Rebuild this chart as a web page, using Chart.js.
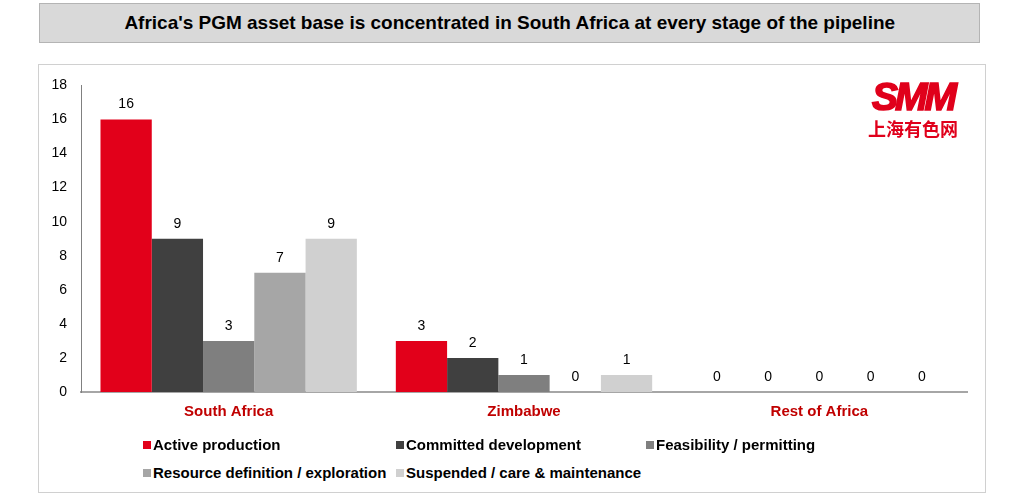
<!DOCTYPE html>
<html>
<head>
<meta charset="utf-8">
<script src="https://cdn.jsdelivr.net/npm/chart.js@4.4.1/dist/chart.umd.min.js"></script>
<style>
  html, body { margin: 0; padding: 0; background: #fff; }
  body { width: 1024px; height: 499px; position: relative; overflow: hidden; font-family: "Liberation Sans", Arial, sans-serif; }
  #titleBox {
    position: absolute; left: 39px; top: 3px; width: 939px; height: 38px;
    background: #d9d9d9; border: 1px solid #b4b4b4;
    display: flex; align-items: center; justify-content: center;
  }
  #titleText { font-weight: bold; font-size: 19px; color: #000; white-space: nowrap; display: inline-block; transform-origin: center; }
  #chartBox {
    position: absolute; left: 38px; top: 64px; width: 946px; height: 427px;
    background: #fff; border: 1px solid #d0d0d0;
  }
  #canvasWrap { position: absolute; left: 1px; top: -2px; width: 944px; height: 373px; }
  #logo { position: absolute; left: 824px; top: 17px; width: 100px; color: #e0001b; text-align: center; }
  #logoSmm { font-family: "Liberation Sans", Arial, sans-serif; font-weight: bold; font-style: italic; font-size: 39px; line-height: 30px; display: inline-block; letter-spacing: -3px; -webkit-text-stroke: 1.6px #e0001b; }
  #logoCn { font-family: "Noto Sans CJK SC", sans-serif; font-weight: bold; font-size: 18px; line-height: 20px; margin-top: 4px; }
  .legRow { position: absolute; left: 0; height: 20px; font-weight: bold; font-size: 15px; color: #000; }
  .legItem { position: absolute; top: 0; white-space: nowrap; line-height: 20px; }
  .legItem i { display: inline-block; width: 8px; height: 8px; margin-right: 2px; vertical-align: 1px; }
</style>
</head>
<body>
<div id="titleBox"><span id="titleText">Africa's PGM asset base is concentrated in South Africa at every stage of the pipeline</span></div>
<div id="chartBox">
  <div id="canvasWrap"><canvas id="chart"></canvas></div>
  <div id="logo"><div id="logoSmm">SMM</div><div id="logoCn">上海有色网</div></div>
  <div class="legRow" id="legRow1" style="top:370px"></div>
  <div class="legRow" id="legRow2" style="top:398px"></div>
</div>
<script>
const regions = ['South Africa', 'Zimbabwe', 'Rest of Africa'];
const seriesNames = ['Active production', 'Committed development', 'Feasibility / permitting', 'Resource definition / exploration', 'Suspended / care & maintenance'];
const seriesColors = ['#e2001a', '#404040', '#7f7f7f', '#a6a6a6', '#d0d0d0'];
const activeProduction = [16, 3, 0];
const committedDevelopment = [9, 2, 0];
const feasibilityPermitting = [3, 1, 0];
const resourceExploration = [7, 0, 0];
const suspendedCare = [9, 1, 0];
const yTicks = [0, 2, 4, 6, 8, 10, 12, 14, 16, 18];

const seriesValues = [activeProduction, committedDevelopment, feasibilityPermitting, resourceExploration, suspendedCare];

// squeeze the title to the width it has in the reference
const titleEl = document.getElementById('titleText');
const titleW = titleEl.getBoundingClientRect().width;
titleEl.style.transform = 'scaleX(' + (771 / titleW).toFixed(3) + ')';

// legend, laid out in columns like the original
const legendCols = [104, 357, 607];
const legendLayout = [[0, 1, 2], [3, 4]];
legendLayout.forEach((row, r) => {
  const rowEl = document.getElementById('legRow' + (r + 1));
  row.forEach((si, c) => {
    const item = document.createElement('span');
    item.className = 'legItem';
    item.style.left = legendCols[c] + 'px';
    item.innerHTML = '<i style="background:' + seriesColors[si] + '"></i>' + seriesNames[si];
    rowEl.appendChild(item);
  });
});

const valueLabels = {
  id: 'valueLabels',
  afterDatasetsDraw(chart) {
    const ctx = chart.ctx;
    ctx.save();
    ctx.font = '14px "Liberation Sans", Arial, sans-serif';
    ctx.fillStyle = '#000';
    ctx.textAlign = 'center';
    ctx.textBaseline = 'middle';
    chart.data.datasets.forEach((ds, i) => {
      chart.getDatasetMeta(i).data.forEach((bar, j) => {
        ctx.fillText(String(ds.data[j]), bar.x, bar.y - 15);
      });
    });
    ctx.restore();
  }
};

new Chart(document.getElementById('chart'), {
  type: 'bar',
  data: {
    labels: regions,
    datasets: seriesNames.map((name, i) => ({
      label: name,
      data: seriesValues[i],
      backgroundColor: seriesColors[i],
      borderWidth: 0,
      categoryPercentage: 0.868,
      barPercentage: 1.0
    }))
  },
  options: {
    responsive: true,
    maintainAspectRatio: false,
    animation: false,
    events: [],
    layout: { padding: { top: 15, right: 17, left: 0, bottom: 0 } },
    plugins: {
      legend: { display: false },
      tooltip: { enabled: false }
    },
    scales: {
      x: {
        grid: { display: false, drawTicks: false },
        border: { color: '#a6a6a6', width: 2 },
        ticks: {
          color: '#c00000',
          padding: 11,
          font: { family: '"Liberation Sans", Arial, sans-serif', size: 15, weight: 'bold' }
        },
        afterFit(scale) { scale.height = 44; }
      },
      y: {
        min: 0,
        max: 18,
        grid: { display: false, drawTicks: false },
        border: { color: '#808080', width: 1 },
        afterBuildTicks(scale) { scale.ticks = yTicks.map(v => ({ value: v })); },
        ticks: {
          color: '#000',
          padding: 14,
          font: { family: '"Liberation Sans", Arial, sans-serif', size: 14 }
        },
        afterFit(scale) { scale.width = 41; }
      }
    }
  },
  plugins: [valueLabels]
});
</script>
</body>
</html>
